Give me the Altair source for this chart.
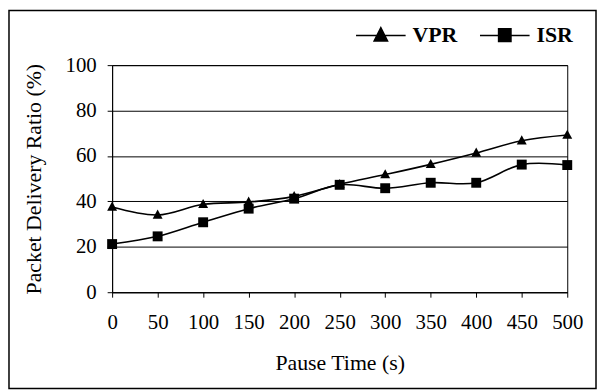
import altair as alt
import pandas as pd

pause = [0, 50, 100, 150, 200, 250, 300, 350, 400, 450, 500]
vpr = [37.5, 34.0, 38.7, 39.7, 42.2, 47.5, 51.8, 56.3, 61.3, 66.7, 69.2]
isr = [21.2, 24.6, 30.8, 36.8, 41.2, 47.3, 45.8, 48.2, 48.2, 56.2, 56.0]
series = ["VPR", "ISR"]
y_ticks = [0, 20, 40, 60, 80, 100]

df = pd.DataFrame({
    "pause": pause * 2,
    "value": vpr + isr,
    "series": ["VPR"] * len(pause) + ["ISR"] * len(pause),
})

W, H = 459, 229
FONT = "Liberation Serif"

x = alt.X("pause:Q", scale=alt.Scale(domain=[0, 500], nice=False),
          axis=alt.Axis(values=pause, title="Pause Time (s)", grid=False,
                        labelFont=FONT, titleFont=FONT,
                        labelFontSize=21, titleFontSize=22, labelPadding=15,
                        titlePadding=20, tickSize=5, labelFlush=False))
y = alt.Y("value:Q", scale=alt.Scale(domain=[0, 100], nice=False),
          axis=alt.Axis(values=y_ticks, title="Packet Delivery Ratio (%)", grid=True,
                        labelFont=FONT, titleFont=FONT,
                        labelFontSize=21, titleFontSize=22, labelPadding=11,
                        titlePadding=20, tickSize=5))

lines = alt.Chart(df).mark_line(interpolate="catmull-rom", color="black",
                                strokeWidth=1.6).encode(x=x, y=y, detail="series:N")

TRI = "M0,-1.1L1,0.75L-1,0.75Z"
pts = alt.Chart(df).mark_point(filled=True, color="black", size=100, opacity=1).encode(
    x=x, y=y,
    shape=alt.Shape("series:N", scale=alt.Scale(domain=series, range=[TRI, "square"]),
                    legend=None),
)

LTRI = "M-1,-0.03H1V0.03H-1ZM0,-0.38L0.32,0.26L-0.32,0.26Z"
LSQ = "M-1,-0.03H1V0.03H-1ZM-0.28,-0.3H0.28V0.28H-0.28Z"
leg = alt.Chart(df).transform_filter("false").mark_point(
    filled=True, color="black", opacity=1
).encode(
    x=x, y=y,
    shape=alt.Shape("series:N", scale=alt.Scale(domain=series, range=[LTRI, LSQ]),
                    legend=alt.Legend(title=None, orient="none", direction="horizontal",
                                      legendX=246, legendY=-55, padding=0,
                                      symbolSize=2500, symbolFillColor="black",
                                      symbolStrokeWidth=0,
                                      labelFont=FONT, labelFontSize=22, labelFontWeight="bold",
                                      labelColor="black", labelOffset=7, columnPadding=22,
                                      symbolOpacity=1)),
)

frame = alt.Chart(pd.DataFrame({"a": [0]})).mark_rect(
    fill=None, stroke="black", strokeWidth=1.5
).encode(x=alt.value(-104), x2=alt.value(488), y=alt.value(-55), y2=alt.value(326))

chart = alt.layer(frame, lines, pts, leg).resolve_scale(shape="independent").resolve_legend(
    shape="independent"
).properties(width=W, height=H, padding=0, background="white").configure_view(
    stroke="black", strokeWidth=1
).configure_axis(
    labelFont=FONT, titleFont=FONT, labelColor="black", titleColor="black",
    titleFontWeight="normal", domainColor="black", tickColor="black", gridColor="black",
    gridOpacity=1, domainWidth=1, tickWidth=1, gridWidth=1
)

chart.save("out.html", embed_options={"renderer": "svg", "actions": False})
